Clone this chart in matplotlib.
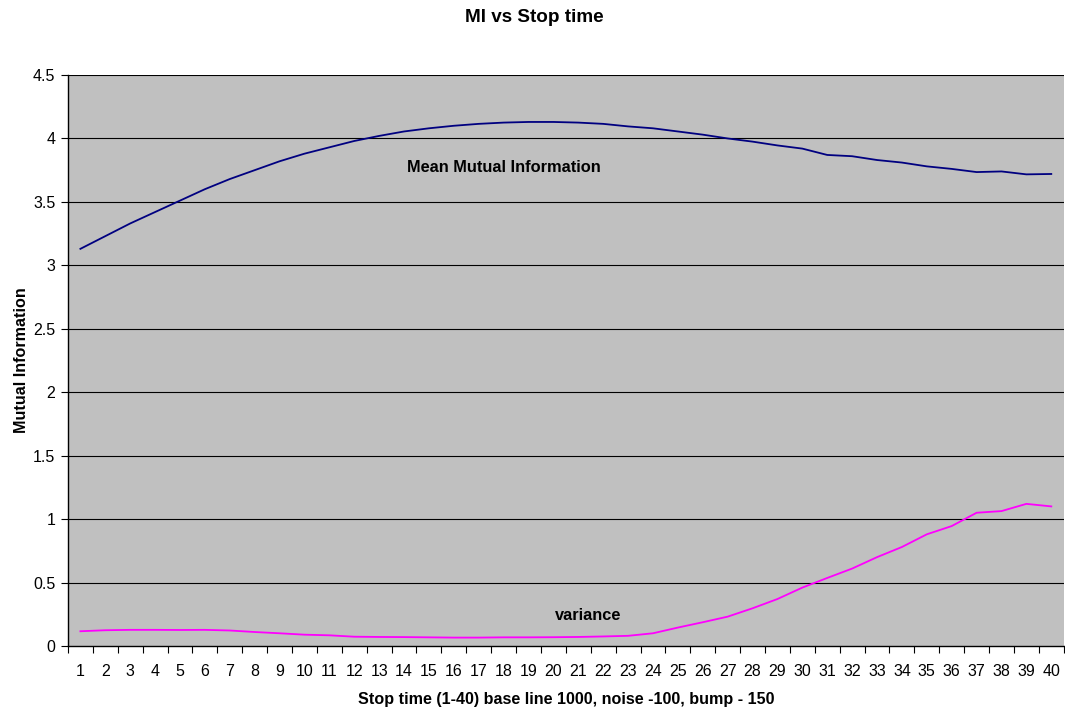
import matplotlib
matplotlib.use("Agg")
import matplotlib.pyplot as plt
import numpy as np

plt.rcParams["font.family"] = ["Liberation Sans", "DejaVu Sans"]

stop_time = list(range(1, 41))
mean_mi = [3.13, 3.23, 3.33, 3.42, 3.51, 3.60, 3.68, 3.75, 3.82, 3.88,
           3.93, 3.98, 4.02, 4.055, 4.08, 4.10, 4.115, 4.125, 4.13, 4.13,
           4.125, 4.115, 4.095, 4.08, 4.055, 4.03, 4.00, 3.975, 3.945, 3.92,
           3.87, 3.86, 3.83, 3.81, 3.78, 3.76, 3.735, 3.74, 3.717, 3.72]
variance = [0.116, 0.124, 0.127, 0.127, 0.126, 0.127, 0.122, 0.11, 0.10, 0.089,
            0.084, 0.073, 0.071, 0.070, 0.068, 0.066, 0.066, 0.068, 0.068, 0.069,
            0.071, 0.075, 0.08, 0.10, 0.145, 0.187, 0.231, 0.297, 0.37, 0.46,
            0.536, 0.61, 0.70, 0.78, 0.88, 0.945, 1.05, 1.063, 1.12, 1.10]
y_ticks = [0, 0.5, 1, 1.5, 2, 2.5, 3, 3.5, 4, 4.5]
y_tick_labels = ["0", "0.5", "1", "1.5", "2", "2.5", "3", "3.5", "4", "4.5"]

fig = plt.figure(figsize=(10.65, 7.09), dpi=100)
ax = fig.add_axes([0.0638, 0.0889, 0.935, 0.8053])
ax.set_facecolor("#c0c0c0")

for y in y_ticks[1:]:
    ax.axhline(y, color="black", linewidth=0.8, zorder=1)

ax.plot(stop_time, mean_mi, color="#000080", linewidth=1.3, zorder=3)
ax.plot(stop_time, variance, color="#ff00ff", linewidth=1.3, zorder=3)

ax.text(18.0, 3.77, "Mean Mutual Information", fontsize=11.8, fontweight="bold",
        ha="center", va="center")
ax.text(21.4, 0.24, "variance", fontsize=11.8, fontweight="bold",
        ha="center", va="center")

ax.set_xlim(0.5, 40.5)
ax.set_ylim(0, 4.5)
ax.set_xticks(stop_time)
ax.set_xticklabels([str(s) for s in stop_time], fontsize=11.5)
ax.set_xticks(np.arange(0.5, 41, 1), minor=True)
ax.tick_params(axis="x", which="major", length=0, pad=13)
ax.tick_params(axis="x", which="minor", length=5, direction="out", width=0.8)
ax.set_yticks(y_ticks)
ax.set_yticklabels(y_tick_labels, fontsize=11.5)
ax.tick_params(axis="y", length=5, direction="out", width=0.8, pad=4)

for side in ("top", "right"):
    ax.spines[side].set_visible(False)
for side in ("left", "bottom"):
    ax.spines[side].set_linewidth(1.0)
    ax.spines[side].set_color("black")

ax.set_xlabel("Stop time (1-40) base line 1000, noise -100, bump - 150",
              fontsize=11.6, fontweight="bold", labelpad=9)
ax.set_ylabel("Mutual Information", fontsize=11.6, fontweight="bold", labelpad=3)
fig.suptitle("MI vs Stop time", fontsize=13.6, fontweight="bold", x=0.502, y=0.987)

fig.savefig("out.png", dpi=100)
